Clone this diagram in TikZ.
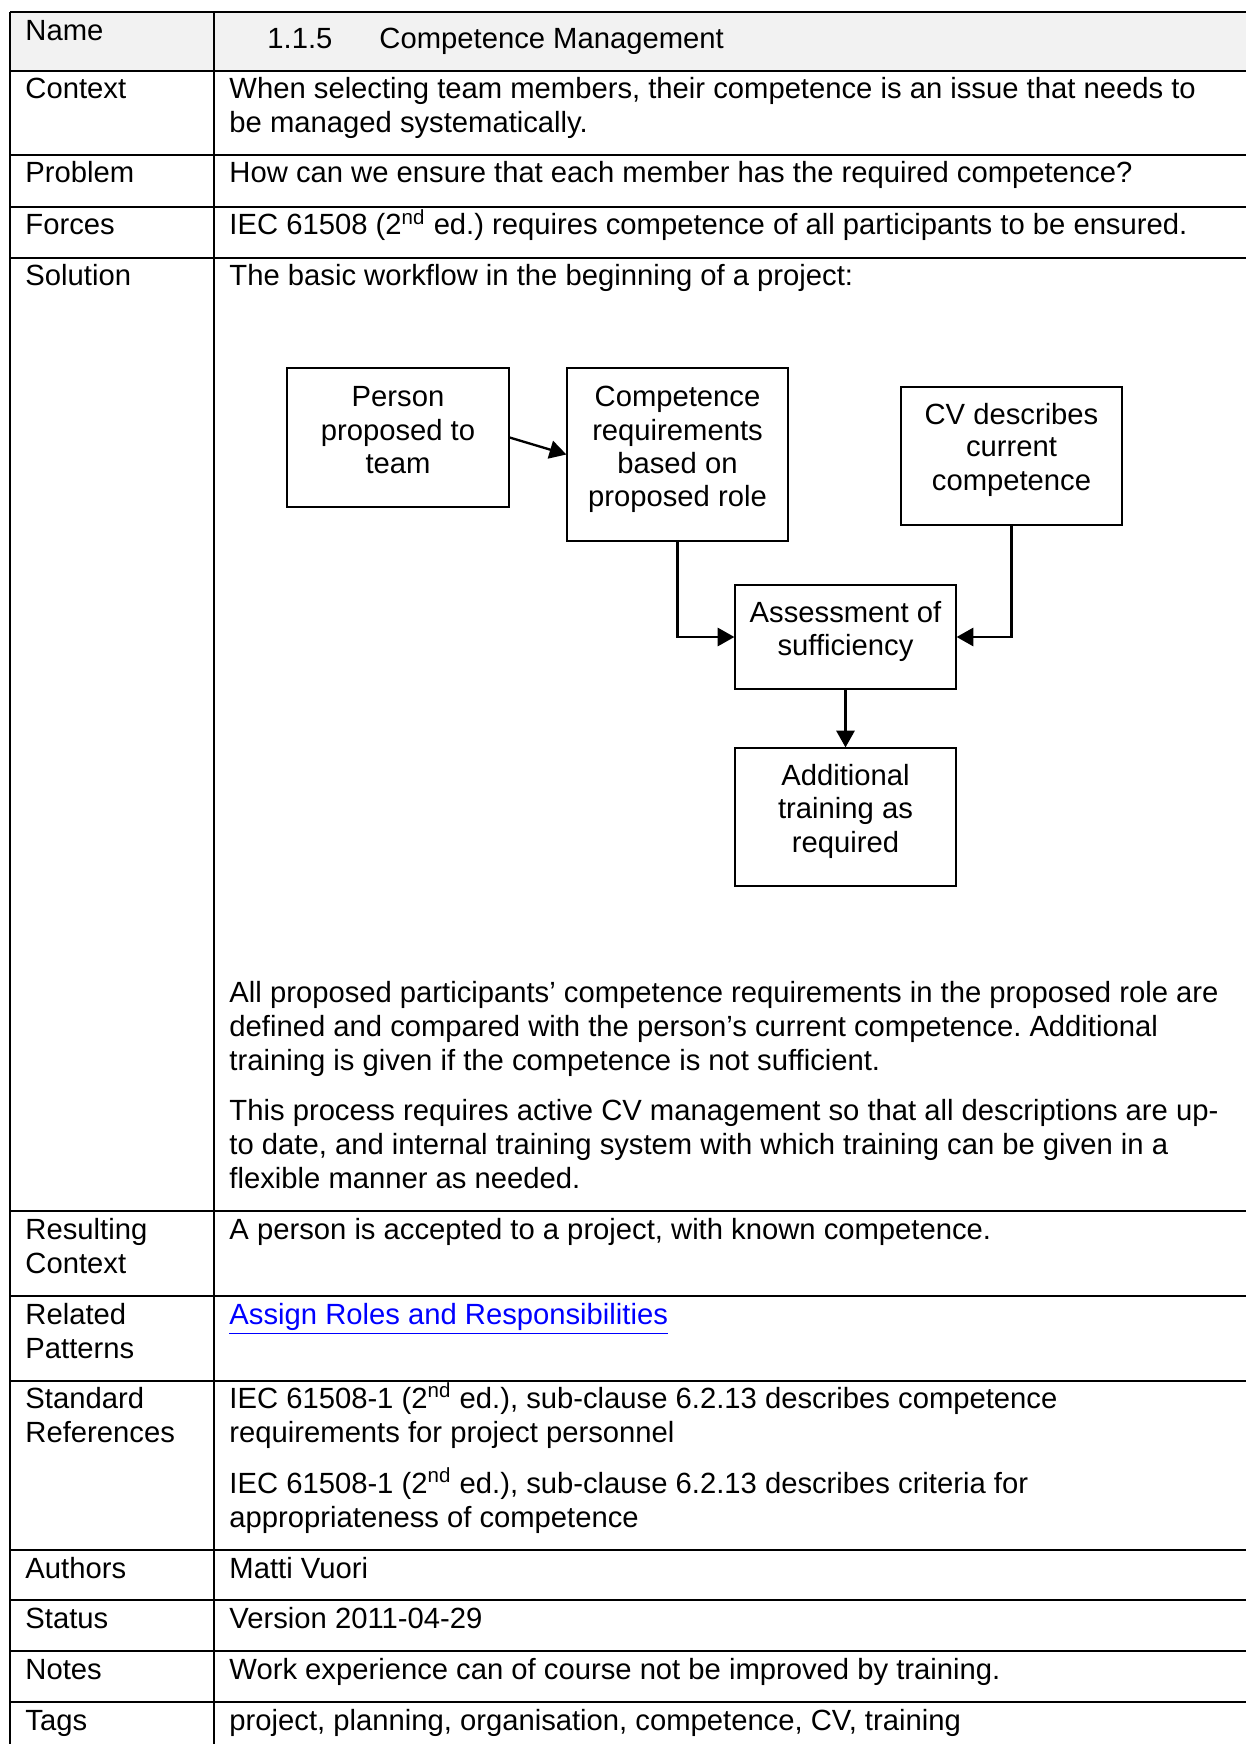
\documentclass[tikz,border=0pt]{standalone}
\usepackage{fontspec}
\setmainfont{Liberation Sans}
\usetikzlibrary{arrows.meta,fit}
\definecolor{namefill}{HTML}{F2F2F2}
\definecolor{linkblue}{HTML}{0000FF}
\frenchspacing
\begin{document}
\begin{tikzpicture}[x=0.4056pt,y=-0.4056pt,
  rule/.style={line width=0.6pt},
  cell/.style={font=\fontsize{11.85}{14}\selectfont, inner sep=0pt, anchor=base west},
  ctr/.style={font=\fontsize{11.85}{14}\selectfont, inner sep=0pt, anchor=base},
  box/.style={draw, line width=0.5pt, inner sep=0pt},
  flow/.style={line width=0.95pt, -{Triangle[width=7.4pt,length=6.8pt]}}]
\useasboundingbox (0,0) rectangle (1246,1744);

% shaded title row
\fill[namefill] (10,12) rectangle (1246,71);

% table rules
\foreach \y in {12,71,155,207,258,1211,1296,1381,1550,1600,1651,1702}
  \draw[rule] (10,\y) -- (1246,\y);
\draw[rule] (10,12) -- (10,1744);
\draw[rule] (214,12) -- (214,1744);

% left column labels
\node[cell] (l-name) at (25,41) {Name};
\node[cell] (l-context) at (25,99) {Context};
\node[cell] (l-problem) at (25,183) {Problem};
\node[cell] (l-forces) at (25,235) {Forces};
\node[cell] (l-solution) at (25,286) {Solution};
\node[cell] (l-result-1) at (25,1239) {Resulting};
\node[cell] (l-result-2) at (25,1273) {Context};
\node[cell] (l-related-1) at (25,1324) {Related};
\node[cell] (l-related-2) at (25,1358) {Patterns};
\node[cell] (l-std-1) at (25,1408) {Standard};
\node[cell] (l-std-2) at (25,1442) {References};
\node[cell] (l-authors) at (25,1578) {Authors};
\node[cell] (l-status) at (25,1628) {Status};
\node[cell] (l-notes) at (25,1679) {Notes};
\node[cell] (l-tags) at (25,1730) {Tags};

% right column contents
\node[cell] (h-num) at (267,49) {1.1.5};
\node[cell] (h-title) at (379,49) {Competence Management};
\node[cell] (context-1) at (229,99) {When selecting team members, their competence is an issue that needs to};
\node[cell] (context-2) at (229,133) {be managed systematically.};
\node[cell] (problem) at (229,183) {How can we ensure that each member has the required competence?};
\node[cell] (forces) at (229,235) {IEC 61508 (2\textsuperscript{nd} ed.) requires competence of all participants to be ensured.};
\node[cell] (sol-0) at (229,286) {The basic workflow in the beginning of a project:};

% workflow boxes
\node[box, fit={(287,368) (509,507)}] (person) {};
\node[box, fit={(567,368) (788,541)}] (comp) {};
\node[box, fit={(901,387) (1122,525)}] (cv) {};
\node[box, fit={(735,585) (956,689)}] (assess) {};
\node[box, fit={(735,748) (956,886)}] (addl) {};

\node[ctr] (person-1) at (398,407) {Person};
\node[ctr] (person-2) at (398,440) {proposed to};
\node[ctr] (person-3) at (398,473) {team};
\node[ctr] (comp-1) at (677.5,407) {Competence};
\node[ctr] (comp-2) at (677.5,440) {requirements};
\node[ctr] (comp-3) at (677.5,473) {based on};
\node[ctr] (comp-4) at (677.5,506) {proposed role};
\node[ctr] (cv-1) at (1011.5,424) {CV describes};
\node[ctr] (cv-2) at (1011.5,457) {current};
\node[ctr] (cv-3) at (1011.5,490) {competence};
\node[ctr] (assess-1) at (845.5,622) {Assessment of};
\node[ctr] (assess-2) at (845.5,655) {sufficiency};
\node[ctr] (addl-1) at (845.5,785) {Additional};
\node[ctr] (addl-2) at (845.5,818) {training as};
\node[ctr] (addl-3) at (845.5,852) {required};

% workflow connectors
\draw[flow] (person.east) -- (comp.west);
\draw[flow] (comp.south) |- (assess.west);
\draw[flow] (cv.south) |- (assess.east);
\draw[flow] (assess.south) -- (addl.north);

% solution description
\node[cell] (sol-1) at (229,1002) {All proposed participants’ competence requirements in the proposed role are};
\node[cell] (sol-2) at (229,1036) {defined and compared with the person’s current competence. Additional};
\node[cell] (sol-3) at (229,1070) {training is given if the competence is not sufficient.};
\node[cell] (sol-4) at (229,1120) {This process requires active CV management so that all descriptions are up-};
\node[cell] (sol-5) at (229,1154) {to date, and internal training system with which training can be given in a};
\node[cell] (sol-6) at (229,1188) {flexible manner as needed.};

\node[cell] (result) at (229,1239) {A person is accepted to a project, with known competence.};
\node[cell, text=linkblue] (related) at (229,1324) {\underline{Assign Roles and Responsibilities}};
\node[cell] (std-1) at (229,1408) {IEC 61508-1 (2\textsuperscript{nd} ed.), sub-clause 6.2.13 describes competence};
\node[cell] (std-2) at (229,1442) {requirements for project personnel};
\node[cell] (std-3) at (229,1493) {IEC 61508-1 (2\textsuperscript{nd} ed.), sub-clause 6.2.13 describes criteria for};
\node[cell] (std-4) at (229,1527) {appropriateness of competence};
\node[cell] (authors) at (229,1578) {Matti Vuori};
\node[cell] (status) at (229,1628) {Version 2011-04-29};
\node[cell] (notes) at (229,1679) {Work experience can of course not be improved by training.};
\node[cell] (tags) at (229,1730) {project, planning, organisation, competence, CV, training};
\end{tikzpicture}
\end{document}
